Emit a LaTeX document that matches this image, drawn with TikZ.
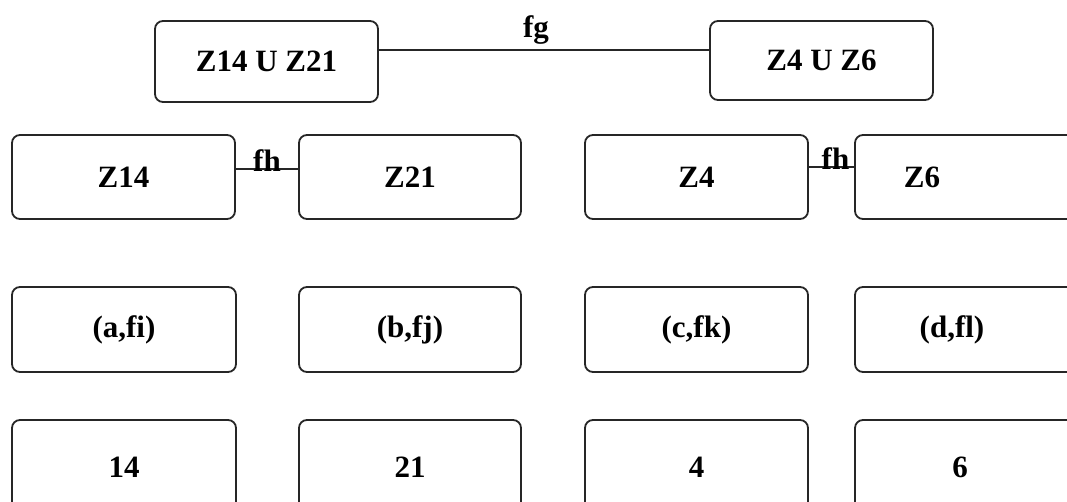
\documentclass[tikz,border=0pt]{standalone}
\usepackage{fontspec}
\setmainfont{Liberation Serif}
\begin{document}
\begin{tikzpicture}[x=1pt,y=-1pt,
  box/.style={draw=black!85, line width=1.8pt, rounded corners=8pt, inner sep=0pt, font=\bfseries\fontsize{31}{34}\selectfont},
  txt/.style={inner sep=0pt, font=\bfseries\fontsize{31}{34}\selectfont},
  conn/.style={draw=black!85, line width=1.6pt}]
\useasboundingbox (0,0) rectangle (1067,502);
\clip (0,0) rectangle (1067,502);
% top row
\node[box, minimum width=223pt, minimum height=81pt] (t1) at (266.5,61.5) {Z14 U Z21};
\node[box, minimum width=223pt, minimum height=79pt] (t2) at (821.5,60.5) {Z4 U Z6};
\draw[conn] ([yshift=11.5pt]t1.east) -- node[txt, above=5pt, xshift=-8pt] (fg) {fg} ([yshift=10.5pt]t2.west);
% second row
\node[box, minimum width=223pt, minimum height=84pt] (z14) at (123.5,177) {Z14};
\node[box, minimum width=222pt, minimum height=84pt] (z21) at (410,177) {Z21};
\node[box, minimum width=223pt, minimum height=84pt] (z4) at (696.5,177) {Z4};
\node[box, minimum width=223pt, minimum height=84pt] (z6) at (966.5,177) {};
\node[txt] (z6t) at (922,177) {Z6};
\draw[conn] ([yshift=8pt]z14.east) -- node[txt, above=-3pt] (fh1) {fh} ([yshift=8pt]z21.west);
\draw[conn] ([yshift=10pt]z4.east) -- node[txt, above=-3pt, xshift=4pt] (fh2) {fh} ([yshift=10pt]z6.west);
% third row
\node[box, minimum width=224pt, minimum height=85pt] (p1) at (124,329.5) {(a,fi)};
\node[box, minimum width=222pt, minimum height=85pt] (p2) at (410,329.5) {(b,fj)};
\node[box, minimum width=223pt, minimum height=85pt] (p3) at (696.5,329.5) {(c,fk)};
\node[box, minimum width=223pt, minimum height=85pt] (p4) at (966.5,329.5) {};
\node[txt] (p4t) at (952,329.5) {(d,fl)};
% fourth row
\node[box, minimum width=224pt, minimum height=94pt] (n1) at (124,467) {14};
\node[box, minimum width=222pt, minimum height=94pt] (n2) at (410,467) {21};
\node[box, minimum width=223pt, minimum height=94pt] (n3) at (696.5,467) {4};
\node[box, minimum width=223pt, minimum height=94pt] (n4) at (966.5,467) {};
\node[txt] (n4t) at (960,467) {6};
\end{tikzpicture}
\end{document}
